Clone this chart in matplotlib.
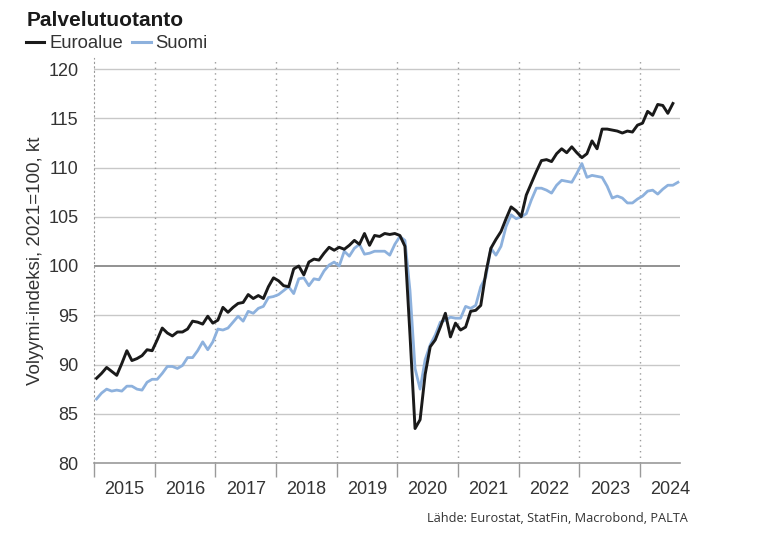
import numpy as np
import matplotlib
matplotlib.use("Agg")
import matplotlib.pyplot as plt
from matplotlib.lines import Line2D
from matplotlib.ticker import FixedLocator, NullFormatter, FixedFormatter

plt.rcParams["font.family"] = ["Liberation Sans", "DejaVu Sans"]

# monthly index values, 2021=100, seasonally adjusted (from Jan 2015)
euroalue = [
    88.6, 89.1, 89.7, 89.3, 88.9, 90.1, 91.4, 90.4, 90.6, 90.9, 91.5, 91.4,
    92.5, 93.7, 93.2, 92.9, 93.3, 93.3, 93.6, 94.4, 94.3, 94.1, 94.9, 94.2,
    94.5, 95.8, 95.3, 95.8, 96.2, 96.3, 97.1, 96.7, 97.0, 96.7, 97.9, 98.8,
    98.5, 98.0, 97.9, 99.7, 100.0, 99.1, 100.4, 100.7, 100.6, 101.3, 101.9, 101.6,
    101.9, 101.7, 102.1, 102.6, 102.2, 103.3, 102.1, 103.1, 103.0, 103.3, 103.2, 103.3,
    103.1, 102.0, 93.0, 83.5, 84.4, 89.0, 91.8, 92.5, 93.8, 95.2, 92.8, 94.2,
    93.5, 93.8, 95.4, 95.5, 96.0, 99.3, 101.8, 102.7, 103.5, 104.8, 106.0, 105.6,
    105.0, 107.2, 108.4, 109.6, 110.7, 110.8, 110.6, 111.4, 111.9, 111.5, 112.1, 111.5,
    111.0, 111.4, 112.7, 111.9, 113.9, 113.9, 113.8, 113.7, 113.5, 113.7, 113.6, 114.3,
    114.5, 115.7, 115.3, 116.4, 116.3, 115.5, 116.5,
]
suomi = [
    86.5, 87.1, 87.5, 87.3, 87.4, 87.3, 87.8, 87.8, 87.5, 87.4, 88.2, 88.5,
    88.5, 89.1, 89.8, 89.8, 89.6, 89.9, 90.7, 90.7, 91.4, 92.3, 91.5, 92.3,
    93.6, 93.5, 93.7, 94.3, 94.9, 94.4, 95.4, 95.2, 95.7, 95.9, 96.8, 96.9,
    97.1, 97.5, 97.9, 97.2, 98.7, 98.8, 98.0, 98.7, 98.6, 99.5, 100.1, 100.4,
    100.0, 101.5, 101.0, 101.8, 102.2, 101.2, 101.3, 101.5, 101.5, 101.5, 101.1, 102.2,
    103.0, 102.6, 97.5, 89.6, 87.5, 90.5, 92.0, 93.0, 94.3, 94.5, 94.8, 94.7,
    94.7, 95.9, 95.7, 96.0, 97.9, 98.9, 101.8, 101.1, 102.0, 104.0, 105.2, 104.8,
    105.0, 105.3, 106.7, 107.9, 107.9, 107.7, 107.4, 108.2, 108.7, 108.6, 108.5, 109.4,
    110.4, 109.0, 109.2, 109.1, 109.0, 108.1, 106.9, 107.1, 106.9, 106.4, 106.4, 106.8,
    107.1, 107.6, 107.7, 107.3, 107.8, 108.2, 108.2, 108.5,
]
years = list(range(2015, 2025))
y_ticks = [80, 85, 90, 95, 100, 105, 110, 115, 120]

start_year = 2015
x_euro = start_year + (np.arange(len(euroalue)) + 0.5) / 12
x_fin = start_year + (np.arange(len(suomi)) + 0.5) / 12

text_col = "#333333"
fig = plt.figure(figsize=(7.63, 5.5), dpi=100)
ax = fig.add_axes([94 / 763, 1 - 463 / 550, (680 - 94) / 763, (463 - 58) / 550])

for v in y_ticks[1:]:
    ax.axhline(v, color="#7f7f7f" if v == 100 else "#c8c8c8", lw=1.2 if v == 100 else 1.0, zorder=1)
for yr in years[1:]:
    ax.axvline(yr, color="#9a9a9a", lw=1.0, ls=(0, (1, 3)), zorder=1)

ax.plot(x_fin, suomi, color="#8db1dd", lw=2.0, zorder=3)
ax.plot(x_euro, euroalue, color="#1a1a1a", lw=2.1, zorder=4)

ax.set_xlim(2015, 2015 + (680 - 94) / 60.67)
ax.set_ylim(80, 120 + 11 / 9.85)

for side in ("top", "right"):
    ax.spines[side].set_visible(False)
ax.spines["left"].set_color("#9a9a9a")
ax.spines["left"].set_linestyle((0, (1, 3)))
ax.spines["bottom"].set_color("#9a9a9a")
ax.spines["bottom"].set_linewidth(1.2)

ax.xaxis.set_major_locator(FixedLocator(years))
ax.xaxis.set_major_formatter(NullFormatter())
ax.xaxis.set_minor_locator(FixedLocator([y + 0.5 for y in years]))
ax.xaxis.set_minor_formatter(FixedFormatter([str(y) for y in years]))
ax.tick_params(axis="x", which="major", length=10, width=1, color="#9a9a9a", direction="out")
ax.tick_params(axis="x", which="minor", length=0, pad=13, labelsize=13, labelcolor=text_col)

ax.set_yticks(y_ticks)
ax.tick_params(axis="y", length=0, pad=11, labelsize=13, labelcolor=text_col)
ax.set_ylabel("Volyymi-indeksi, 2021=100, kt", fontsize=13.5, color=text_col, labelpad=3)

fig.text(27 / 763, 1 - 21 / 550, "Palvelutuotanto", fontsize=15, fontweight="bold",
         color="#1a1a1a", ha="left", va="center")
handles = [Line2D([], [], color="#1a1a1a", lw=2.2), Line2D([], [], color="#8db1dd", lw=2.2)]
fig.legend(handles, ["Euroalue", "Suomi"], loc="center left", bbox_to_anchor=(26 / 763, 1 - 44 / 550),
           ncol=2, frameon=False, fontsize=13.3, handlelength=1.0, handletextpad=0.25,
           columnspacing=0.5, borderpad=0, borderaxespad=0, labelcolor=text_col)

fig.text(688 / 763, 1 - 519 / 550, "Lähde: Eurostat, StatFin, Macrobond, PALTA",
         fontsize=9.2, family="Open Sans", color=text_col, ha="right", va="center")

fig.savefig("out.png", dpi=100)
